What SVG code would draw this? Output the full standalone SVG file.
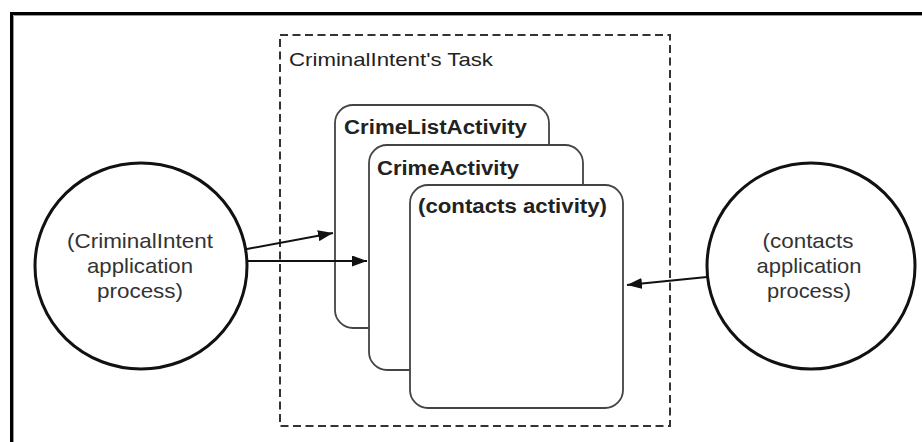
<svg xmlns="http://www.w3.org/2000/svg" width="922" height="442" viewBox="0 0 922 442">
<defs>
<marker id="ah" markerUnits="userSpaceOnUse" markerWidth="15" markerHeight="11" refX="15" refY="5.5" orient="auto">
<path d="M0,0 L15,5.5 L0,11 z" fill="#111"/>
</marker>
<style>
.lbl{font-family:"Liberation Sans",Arial,sans-serif;fill:#222}
.proc{font-size:21px;text-anchor:middle;fill:#333}
.card{fill:#fff;stroke:#444;stroke-width:1.8}
.bold{font-size:19.5px;font-weight:bold}
.conn{stroke:#111;stroke-width:2;fill:none}
.circ{fill:#fff;stroke:#111;stroke-width:3}
</style>
</defs>
<rect width="922" height="442" fill="#fff"/>
<g id="frame">
<path d="M11.5,442 V13.5 H922" fill="none" stroke="#000" stroke-width="3"/>
<path d="M13.5,442 V15.5 H922" fill="none" stroke="#999" stroke-width="1"/>
</g>
<g id="task">
<rect x="280" y="35" width="390" height="391" fill="none" stroke="#333" stroke-width="2" stroke-dasharray="8,4.5"/>
<text class="lbl" x="289" y="66" font-size="18.5" textLength="204" lengthAdjust="spacingAndGlyphs">CriminalIntent's Task</text>
</g>
<g id="crimeListActivity">
<rect class="card" x="335" y="105" width="214" height="223" rx="18"/>
<text class="lbl bold" x="344" y="134" textLength="183" lengthAdjust="spacingAndGlyphs">CrimeListActivity</text>
</g>
<g id="crimeActivity">
<rect class="card" x="369" y="145" width="214" height="225" rx="18"/>
<text class="lbl bold" x="377" y="175" textLength="142" lengthAdjust="spacingAndGlyphs">CrimeActivity</text>
</g>
<g id="contactsActivity">
<rect class="card" x="410" y="185" width="213" height="223" rx="18"/>
<text class="lbl bold" x="418" y="213" textLength="189" lengthAdjust="spacingAndGlyphs">(contacts activity)</text>
</g>
<g id="criminalIntentProcess">
<ellipse class="circ" cx="141" cy="266" rx="106" ry="103"/>
<text class="lbl proc" x="140" y="248" textLength="146" lengthAdjust="spacingAndGlyphs">(CriminalIntent</text>
<text class="lbl proc" x="140" y="273" textLength="106" lengthAdjust="spacingAndGlyphs">application</text>
<text class="lbl proc" x="140" y="298" textLength="86" lengthAdjust="spacingAndGlyphs">process)</text>
</g>
<g id="contactsProcess">
<ellipse class="circ" cx="811" cy="266" rx="104" ry="103"/>
<text class="lbl proc" x="808" y="248" textLength="91" lengthAdjust="spacingAndGlyphs">(contacts</text>
<text class="lbl proc" x="809" y="273" textLength="105" lengthAdjust="spacingAndGlyphs">application</text>
<text class="lbl proc" x="809" y="298" textLength="84" lengthAdjust="spacingAndGlyphs">process)</text>
</g>
<g id="connectors">
<line class="conn" x1="247" y1="249" x2="333" y2="233" marker-end="url(#ah)"/>
<line class="conn" x1="247" y1="261" x2="367" y2="261" marker-end="url(#ah)"/>
<line class="conn" x1="707" y1="277" x2="627" y2="285" marker-end="url(#ah)"/>
</g>
</svg>
